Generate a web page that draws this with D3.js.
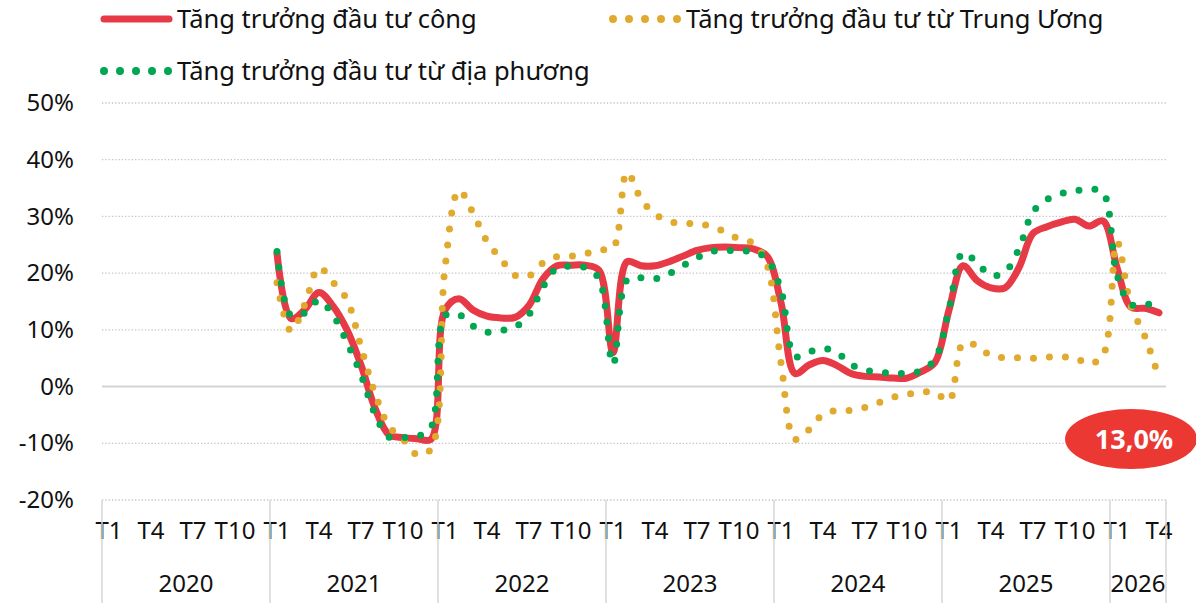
<!DOCTYPE html>
<html>
<head>
<meta charset="utf-8">
<script src="https://cdn.jsdelivr.net/npm/d3@7"></script>
<style>
  body { margin: 0; background: #fff; }
  svg text { font-family: "Noto Sans", "Open Sans", sans-serif; fill: #111; }
</style>
</head>
<body>
<div id="chart"></div>
<script>
// year groups and month ticks
var years = ["2020", "2021", "2022", "2023", "2024", "2025", "2026"];
var monthsPerYear = [12, 12, 12, 12, 12, 12, 4];
var monthTicks = ["T1", "T4", "T7", "T10"];
var yTicks = [-20, -10, 0, 10, 20, 30, 40, 50];

// growth values (%) by month, 2020 T1 .. 2026 T4 (null = no data)
var congValues = [
  null, null, null, null, null, null, null, null, null, null, null, null,
  23.5, 12, 13.6, 16.6, 14.2, 10, 3.8, -3.8, -8.5, -9, -9.2, -9.3,
  13.5, 15.5, 13.5, 12.4, 12.1, 12.2, 14.3, 19, 21.3, 21.4, 21.4, 20.5,
  6, 22, 21.3, 21.3, 22, 23, 24, 24.5, 24.6, 24.5, 24.3, 23,
  14.8, 2.3, 3.8, 4.6, 3.7, 2.3, 1.8, 1.7, 1.5, 1.5, 2.6, 4.3,
  13.5, 21.3, 18.7, 17.4, 17.4, 21, 27, 28.2, 29, 29.5, 28.3, 29.2,
  21, 14, 13.8, 13
];

var trungUongValues = [
  null, null, null, null, null, null, null, null, null, null, null, null,
  18.3, 9.8, 14.6, 21, 18.4, 15.3, 7, -1.2, -7, -9.3, -12, -11,
  21, 34.6, 30.6, 25.6, 22.5, 19.6, 19.5, 21.8, 22.9, 23, 23.4, 24.1,
  24.4, 37.8, 33.1, 30.4, 29.2, 28.7, 28.8, 28.2, 27.3, 26, 25.3, 21.5,
  4.2, -9.3, -7.6, -4.9, -4.2, -4.2, -3.7, -2.8, -1.9, -1.4, -1, -1,
  -2.5, 7.6, 7.2, 5.4, 5.1, 5.1, 5, 5.2, 5.2, 5.1, 4, 5.5,
  25.5, 14.2, 8.8, 1.5
];

var diaPhuongValues = [
  null, null, null, null, null, null, null, null, null, null, null, null,
  23.8, 12.5, 13, 15.2, 12.6, 7.8, 2.1, -4.8, -8.9, -9, -8.8, -7.2,
  12.5, 12.7, 10.7, 9.6, 9.9, 10.5, 12.7, 17.6, 20.9, 21.2, 21, 19,
  3.9, 18.8, 19.2, 19, 19.9, 21.3, 22.7, 23.8, 24, 23.9, 23.8, 22.5,
  17, 5.3, 6.1, 6.7, 6, 3.9, 2.9, 2.6, 2.3, 2.4, 2.8, 4.8,
  13.6, 23.6, 21.8, 19.6, 20.2, 24.3, 30.8, 33, 34, 34.5, 34.8, 34.2,
  19.7, 14.5, 14.4, 15
];

var seriesNames = ["Tăng trưởng đầu tư công", "Tăng trưởng đầu tư từ Trung Ương", "Tăng trưởng đầu tư từ địa phương"];
var lastLabel = "13,0%";

var width = 1196, height = 603;
var margin = {top: 103, right: 30, bottom: 103, left: 102};
var w = width - margin.left - margin.right;
var h = height - margin.top - margin.bottom;

var red = "#e73a47", gold = "#e0aa2e", green = "#00a651";

// month keys
var keys = [];
years.forEach(function(y, i) {
  for (var m = 1; m <= monthsPerYear[i]; m++) {
    keys.push(y + "-" + m);
  }
});

var svg = d3.select("#chart")
  .append("svg")
  .attr("width", width)
  .attr("height", height);

var xScale = d3.scaleBand()
  .domain(keys)
  .range([margin.left, margin.left + w])
  .padding(0);

var yScale = d3.scaleLinear()
  .domain([-20, 50])
  .range([margin.top + h, margin.top]);

function xc(k) { return xScale(k) + xScale.bandwidth() / 2; }

// gridlines
svg.append("g")
  .selectAll("line")
  .data(yTicks)
  .enter()
  .append("line")
  .attr("x1", margin.left)
  .attr("x2", margin.left + w)
  .attr("y1", function(d) { return yScale(d); })
  .attr("y2", function(d) { return yScale(d); })
  .attr("stroke", function(d) { return d === 0 ? "#d4d4d4" : "#c4c4c4"; })
  .attr("stroke-width", function(d) { return d === 0 ? 2 : 1.3; })
  .attr("stroke-dasharray", function(d) { return d === 0 ? null : "1.3 2"; });

// y axis labels
var yAxis = d3.axisLeft(yScale)
  .tickValues(yTicks)
  .tickSize(0)
  .tickPadding(28)
  .tickFormat(function(d) { return d + "%"; });

svg.append("g")
  .attr("transform", "translate(" + margin.left + ",0)")
  .call(yAxis)
  .call(function(g) { g.select(".domain").remove(); })
  .selectAll("text")
  .style("font-size", "24px")
  .attr("fill", "#111");

// month labels
var monthKeys = keys.filter(function(k) {
  var m = +k.split("-")[1];
  return m === 1 || m === 4 || m === 7 || m === 10;
});

var xAxis = d3.axisBottom(xScale)
  .tickValues(monthKeys)
  .tickSize(0)
  .tickPadding(22)
  .tickFormat(function(k) { return monthTicks[(+k.split("-")[1] - 1) / 3]; });

svg.append("g")
  .attr("transform", "translate(0," + (margin.top + h) + ")")
  .call(xAxis)
  .call(function(g) { g.select(".domain").remove(); })
  .selectAll("text")
  .style("font-size", "24px")
  .attr("fill", "#111");

// year separators and labels
var yearStart = years.map(function(y) { return xScale(y + "-1"); });
var bounds = yearStart.concat([margin.left + w]);

svg.append("g")
  .selectAll("line")
  .data(bounds)
  .enter()
  .append("line")
  .attr("x1", function(d) { return d; })
  .attr("x2", function(d) { return d; })
  .attr("y1", margin.top + h)
  .attr("y2", height)
  .attr("stroke", "#d6d6d6")
  .attr("stroke-width", 1.5);

svg.append("g")
  .selectAll("text")
  .data(years)
  .enter()
  .append("text")
  .attr("x", function(d, i) { return (bounds[i] + bounds[i + 1]) / 2; })
  .attr("y", 592)
  .attr("text-anchor", "middle")
  .style("font-size", "24px")
  .text(function(d) { return d; });

// lines
var line = d3.line()
  .defined(function(d) { return d.v !== null; })
  .x(function(d) { return xc(d.k); })
  .y(function(d) { return yScale(d.v); })
  .curve(d3.curveCatmullRom.alpha(0.5));

function pts(vals) {
  return keys.map(function(k, i) { return {k: k, v: vals[i]}; });
}

svg.append("path")
  .datum(pts(congValues))
  .attr("d", line)
  .attr("fill", "none")
  .attr("stroke", red)
  .attr("stroke-width", 7)
  .attr("stroke-linejoin", "round")
  .attr("stroke-linecap", "round");

svg.append("path")
  .datum(pts(trungUongValues))
  .attr("d", line)
  .attr("fill", "none")
  .attr("stroke", gold)
  .attr("stroke-width", 7)
  .attr("stroke-dasharray", "0 16")
  .attr("stroke-linecap", "round");

svg.append("path")
  .datum(pts(diaPhuongValues))
  .attr("d", line)
  .attr("fill", "none")
  .attr("stroke", green)
  .attr("stroke-width", 7)
  .attr("stroke-dasharray", "0 16")
  .attr("stroke-linecap", "round");

// legend
var legend = [
  {name: seriesNames[0], color: red, dots: false, x: 104, y: 19},
  {name: seriesNames[1], color: gold, dots: true, x: 613, y: 19},
  {name: seriesNames[2], color: green, dots: true, x: 104, y: 71}
];

legend.forEach(function(l) {
  svg.append("line")
    .attr("x1", l.x)
    .attr("x2", l.x + 65)
    .attr("y1", l.y)
    .attr("y2", l.y)
    .attr("stroke", l.color)
    .attr("stroke-width", l.dots ? 8 : 7)
    .attr("stroke-linecap", "round")
    .attr("stroke-dasharray", l.dots ? "0 16" : null);
  svg.append("text")
    .attr("x", l.x + 73)
    .attr("y", l.y + 8.5)
    .style("font-size", "25.5px")
    .text(l.name);
});

// last value callout
svg.append("ellipse")
  .attr("cx", 1131)
  .attr("cy", 439)
  .attr("rx", 66)
  .attr("ry", 30)
  .attr("fill", "#ec3833");

svg.append("text")
  .attr("x", 1134)
  .attr("y", 449)
  .attr("text-anchor", "middle")
  .style("font-size", "27px")
  .style("font-weight", "bold")
  .style("fill", "#fff")
  .text(lastLabel);
</script>
</body>
</html>
